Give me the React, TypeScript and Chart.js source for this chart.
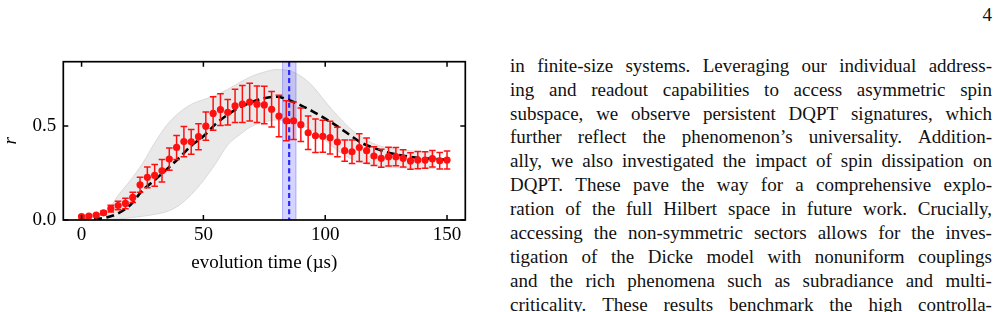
import React, { useEffect, useRef } from "react";
import { Chart, registerables } from "chart.js";

Chart.register(...registerables);

// ---------------- data ----------------
const TIMES = [0, 3, 6, 9, 12, 15, 18, 21, 24, 27, 30, 33, 36, 39, 42, 45, 48, 51, 54, 57, 60, 63, 66, 69, 72, 75, 78, 81, 84, 87, 90, 93, 96, 99, 102, 105, 108, 111, 114, 117, 120, 123, 126, 129, 132, 135, 138, 141, 144, 147, 150];
const R_MEAN = [0.018, 0.021, 0.026, 0.038, 0.06, 0.077, 0.088, 0.12, 0.187, 0.227, 0.237, 0.262, 0.324, 0.386, 0.417, 0.416, 0.443, 0.499, 0.567, 0.587, 0.573, 0.607, 0.617, 0.627, 0.616, 0.612, 0.589, 0.553, 0.528, 0.528, 0.507, 0.464, 0.448, 0.445, 0.438, 0.415, 0.369, 0.363, 0.385, 0.369, 0.34, 0.328, 0.337, 0.337, 0.328, 0.314, 0.319, 0.319, 0.326, 0.315, 0.319];
const R_ERR = [0.006, 0.006, 0.007, 0.01, 0.018, 0.023, 0.028, 0.027, 0.04, 0.055, 0.058, 0.06, 0.059, 0.064, 0.08, 0.066, 0.069, 0.075, 0.089, 0.085, 0.068, 0.089, 0.098, 0.1, 0.097, 0.1, 0.094, 0.11, 0.106, 0.1, 0.089, 0.089, 0.089, 0.085, 0.087, 0.078, 0.057, 0.062, 0.074, 0.067, 0.05, 0.048, 0.05, 0.048, 0.046, 0.044, 0.046, 0.044, 0.044, 0.044, 0.048];

const THEORY_T = [0, 5, 10, 15, 20, 25, 30, 35, 40, 45, 50, 55, 60, 65, 70, 75, 80, 85, 90, 95, 100, 105, 110, 115, 120, 125, 130, 135, 140, 145, 150];
const THEORY_R = [0.0, 0.003, 0.013, 0.035, 0.08, 0.157, 0.212, 0.27, 0.33, 0.395, 0.445, 0.51, 0.56, 0.6, 0.628, 0.648, 0.656, 0.638, 0.61, 0.577, 0.539, 0.498, 0.453, 0.41, 0.383, 0.362, 0.347, 0.336, 0.329, 0.325, 0.32];

const BAND_T = [10, 15, 20, 25, 30, 35, 40, 45, 50, 55, 60, 65, 70, 75, 80, 85, 90, 95, 100, 105, 110, 115, 120, 125, 130, 135, 140, 145];
const BAND_UPPER = [0.03, 0.13, 0.21, 0.3, 0.41, 0.505, 0.57, 0.615, 0.64, 0.662, 0.695, 0.732, 0.765, 0.787, 0.8, 0.795, 0.765, 0.71, 0.63, 0.555, 0.49, 0.44, 0.405, 0.385, 0.375, 0.368, 0.363, 0.36];
const BAND_LOWER = [0.002, 0.005, 0.012, 0.02, 0.03, 0.045, 0.078, 0.135, 0.21, 0.3, 0.4, 0.455, 0.5, 0.522, 0.532, 0.525, 0.505, 0.475, 0.425, 0.37, 0.33, 0.303, 0.29, 0.282, 0.278, 0.276, 0.275, 0.275];

const CRIT_T = 85.2;
const CRIT_LO = 82.5;
const CRIT_HI = 88.0;

const X_TICKS = [0, 50, 100, 150];
const Y_TICKS = [0, 0.5];
const X_TITLE = "evolution time (\u00b5s)";
const Y_TITLE = "r";

const PAGE_NUMBER = "4";
const TEXT_LINES = [
  "in finite-size systems. Leveraging our individual address-",
  "ing and readout capabilities to access asymmetric spin",
  "subspace, we observe persistent DQPT signatures, which",
  "further reflect the phenomenon\u2019s universality. Addition-",
  "ally, we also investigated the impact of spin dissipation on",
  "DQPT. These pave the way for a comprehensive explo-",
  "ration of the full Hilbert space in future work. Crucially,",
  "accessing the non-symmetric sectors allows for the inves-",
  "tigation of the Dicke model with nonuniform couplings",
  "and the rich phenomena such as subradiance and multi-",
  "criticality. These results benchmark the high controlla-",
];

const SERIF = "'Liberation Serif', 'Times New Roman', serif";

const overlayPlugin = {
  id: "overlays",
  beforeDatasetDraw(chart: any, args: any) {
    if (args.index !== 0) return;
    const { ctx, scales } = chart;
    const x = scales.x, y = scales.y;
    ctx.save();
    ctx.strokeStyle = "#ff1010";
    ctx.lineWidth = 1.5;
    ctx.beginPath();
    for (let i = 0; i < TIMES.length; i++) {
      const px = x.getPixelForValue(TIMES[i]);
      const y1 = y.getPixelForValue(R_MEAN[i] + R_ERR[i]);
      const y2 = y.getPixelForValue(R_MEAN[i] - R_ERR[i]);
      ctx.moveTo(px, y1);
      ctx.lineTo(px, y2);
      ctx.moveTo(px - 3.3, y1);
      ctx.lineTo(px + 3.3, y1);
      ctx.moveTo(px - 3.3, y2);
      ctx.lineTo(px + 3.3, y2);
    }
    ctx.stroke();
    ctx.restore();
  },
  afterDatasetDraw(chart: any, args: any) {
    if (args.index !== 2) return;
    const { ctx, chartArea: a, scales } = chart;
    const x = scales.x;
    const x0 = x.getPixelForValue(CRIT_LO);
    const x1 = x.getPixelForValue(CRIT_HI);
    const xc = x.getPixelForValue(CRIT_T);
    ctx.save();
    ctx.fillStyle = "rgba(60,60,255,0.22)";
    ctx.fillRect(x0, a.top, x1 - x0, a.bottom - a.top);
    ctx.strokeStyle = "rgba(60,60,255,0.35)";
    ctx.lineWidth = 1;
    ctx.beginPath();
    ctx.moveTo(x0, a.top);
    ctx.lineTo(x0, a.bottom);
    ctx.moveTo(x1, a.top);
    ctx.lineTo(x1, a.bottom);
    ctx.stroke();
    ctx.strokeStyle = "#2a2aff";
    ctx.lineWidth = 2.2;
    ctx.setLineDash([5, 3.2]);
    ctx.beginPath();
    ctx.moveTo(xc, a.top);
    ctx.lineTo(xc, a.bottom);
    ctx.stroke();
    ctx.restore();
  },
  afterDraw(chart: any) {
    const { ctx, chartArea: a, scales } = chart;
    const x = scales.x, y = scales.y;
    ctx.save();
    ctx.strokeStyle = "#000";
    ctx.lineWidth = 1.7;
    ctx.strokeRect(a.left, a.top, a.right - a.left, a.bottom - a.top);
    ctx.lineWidth = 1.5;
    ctx.beginPath();
    const tl = 5;
    for (const v of X_TICKS) {
      const px = x.getPixelForValue(v);
      ctx.moveTo(px, a.bottom);
      ctx.lineTo(px, a.bottom - tl);
      ctx.moveTo(px, a.top);
      ctx.lineTo(px, a.top + tl);
    }
    for (const v of Y_TICKS) {
      const py = y.getPixelForValue(v);
      ctx.moveTo(a.left, py);
      ctx.lineTo(a.left + tl, py);
      ctx.moveTo(a.right, py);
      ctx.lineTo(a.right - tl, py);
    }
    ctx.stroke();
    ctx.restore();
  },
};

function ChartCanvas() {
  const ref = useRef<HTMLCanvasElement>(null);
  useEffect(() => {
    const canvas = ref.current;
    if (!canvas) return;
    const points = TIMES.map((t, i) => ({ x: t, y: R_MEAN[i] }));
    const theory = THEORY_T.map((t, i) => ({ x: t, y: THEORY_R[i] }));
    const upper = BAND_T.map((t, i) => ({ x: t, y: BAND_UPPER[i] }));
    const lower = BAND_T.map((t, i) => ({ x: t, y: BAND_LOWER[i] }));
    const chart = new Chart(canvas, {
      type: "line",
      data: {
        datasets: [
          {
            label: "experiment",
            data: points,
            showLine: false,
            pointRadius: 3.6,
            pointBackgroundColor: "#ff1010",
            pointBorderColor: "#ff1010",
            pointBorderWidth: 0,
          },
          {
            label: "theory",
            data: theory,
            borderColor: "#000",
            borderWidth: 2.6,
            borderDash: [8, 4.5],
            pointRadius: 0,
            cubicInterpolationMode: "monotone",
            fill: false,
          },
          {
            label: "upper",
            data: upper,
            borderColor: "#d8d8d8",
            borderWidth: 1,
            pointRadius: 0,
            cubicInterpolationMode: "monotone",
            fill: false,
          },
          {
            label: "lower",
            data: lower,
            borderColor: "#d8d8d8",
            borderWidth: 1,
            pointRadius: 0,
            cubicInterpolationMode: "monotone",
            fill: "-1",
            backgroundColor: "#e9e9e9",
          },
        ],
      } as any,
      options: {
        responsive: false,
        animation: false,
        devicePixelRatio: 1,
        layout: { padding: { top: 61.7, right: 14.7, left: 0, bottom: 0 }, autoPadding: false } as any,
        plugins: { legend: { display: false }, tooltip: { enabled: false } },
        scales: {
          x: {
            type: "linear",
            min: -7.5,
            max: 157.5,
            grid: { display: false, drawTicks: false },
            border: { display: false },
            afterBuildTicks: (s: any) => {
              s.ticks = X_TICKS.map((v) => ({ value: v }));
            },
            afterFit: (s: any) => {
              s.height = 70;
            },
            ticks: {
              padding: 4,
              color: "#000",
              font: { family: SERIF, size: 19 },
              maxRotation: 0,
              autoSkip: false,
              callback: (v: any) => String(v),
            },
            title: {
              display: true,
              text: X_TITLE,
              color: "#000",
              font: { family: SERIF, size: 19 },
              padding: { top: 0, bottom: 15.5 },
            },
          },
          y: {
            type: "linear",
            min: 0,
            max: 0.842,
            grid: { display: false, drawTicks: false },
            border: { display: false },
            afterBuildTicks: (s: any) => {
              s.ticks = Y_TICKS.map((v) => ({ value: v }));
            },
            afterFit: (s: any) => {
              s.width = 63.3;
            },
            ticks: {
              padding: 7,
              color: "#000",
              font: { family: SERIF, size: 19 },
              callback: (v: any) => Number(v).toFixed(1),
            },
            title: {
              display: true,
              text: Y_TITLE,
              color: "#000",
              font: { family: SERIF, size: 19, style: "italic" },
              padding: { top: 0, bottom: 0 },
            },
          },
        },
      } as any,
      plugins: [overlayPlugin],
    });
    return () => chart.destroy();
  }, []);
  return (
    <canvas
      ref={ref}
      width={480}
      height={290}
      style={{ position: "absolute", left: 0, top: 0, width: 480, height: 290 }}
    />
  );
}

export default function App() {
  return (
    <div
      style={{
        position: "fixed",
        left: 0,
        top: 0,
        width: 1007,
        height: 312,
        background: "#fff",
        overflow: "hidden",
      }}
    >
      <ChartCanvas />
      <div
        style={{
          position: "absolute",
          right: 15,
          top: 2.6,
          fontFamily: SERIF,
          fontSize: 19,
          lineHeight: "23.7px",
          color: "#111",
        }}
      >
        {PAGE_NUMBER}
      </div>
      <div
        style={{
          position: "absolute",
          left: 510,
          top: 53.8,
          width: 482,
          fontFamily: SERIF,
          fontSize: 19,
          lineHeight: "23.9px",
          color: "#111",
        }}
      >
        {TEXT_LINES.map((line, i) => (
          <div
            key={i}
            style={{
              display: "flex",
              justifyContent: "space-between",
              whiteSpace: "nowrap",
              height: 23.9,
            }}
          >
            {line.split(" ").map((w, j) => (
              <span key={j}>{w}</span>
            ))}
          </div>
        ))}
      </div>
    </div>
  );
}
